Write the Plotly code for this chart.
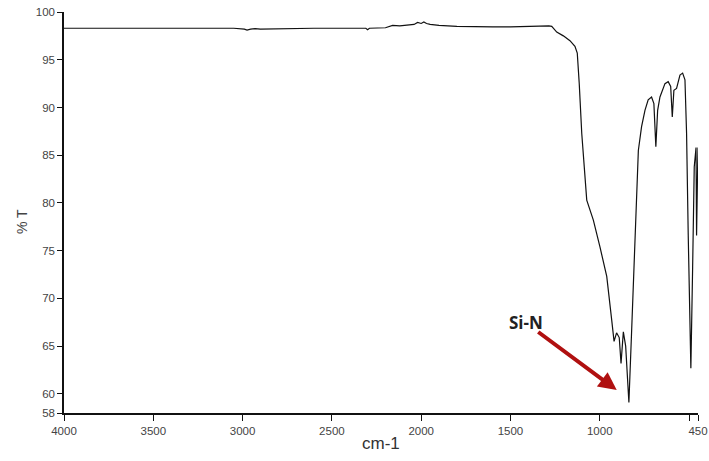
import plotly.graph_objects as go

wavenumber = [4000, 3800, 3600, 3400, 3200, 3050, 2990, 2975, 2955, 2930, 2900, 2800, 2600, 2400,
              2310, 2300, 2290, 2200, 2160, 2120, 2080, 2040, 2020, 2000, 1985, 1970, 1950, 1900,
              1800, 1700, 1600, 1500, 1400, 1330, 1300, 1285, 1269, 1241, 1204, 1167, 1139, 1126,
              1115, 1101, 1073, 1036, 999, 961, 933, 920, 906, 891, 881, 868, 855, 837, 822, 803,
              784, 766, 747, 729, 710, 697, 686, 676, 663, 635, 617, 603, 594, 585, 570, 551, 536,
              523, 514, 505, 495, 490, 480, 471, 461, 458, 452, 450]
transmittance = [98.3, 98.3, 98.25, 98.3, 98.3, 98.3, 98.2, 98.1, 98.2, 98.25, 98.2, 98.25, 98.3, 98.3,
                 98.3, 98.15, 98.3, 98.35, 98.6, 98.55, 98.6, 98.7, 98.9, 98.8, 98.95, 98.8, 98.7, 98.6,
                 98.5, 98.45, 98.45, 98.45, 98.5, 98.6, 98.6, 98.55, 98.5, 97.9, 97.5, 97.0, 96.4, 95.7,
                 92.5, 87.3, 80.3, 78.2, 75.4, 72.3, 67.7, 65.5, 66.4, 65.9, 63.2, 66.5, 65.0, 59.1, 66.4, 76.9,
                 85.5, 88.0, 89.7, 90.8, 91.1, 90.4, 85.9, 89.7, 91.1, 92.5, 92.7, 92.2, 89.0, 91.8, 92.0, 93.4, 93.6,
                 92.9, 87.3, 76.9, 66.4, 62.7, 73.3, 83.8, 85.8, 76.6, 83.8, 85.8]

x_tickvals = [4000, 3500, 3000, 2500, 2000, 1500, 1000, 500, 450]
x_ticktext = ["4000", "3500", "3000", "2500", "2000", "1500", "1000", "", "450"]
y_tickvals = [58, 60, 65, 70, 75, 80, 85, 90, 95, 100]
y_ticktext = ["58", "60", "65", "70", "75", "80", "85", "90", "95", "100"]

x_title = "cm-1"
y_title = "% T"
label_text = "Si-N"
label_pos = (1415, 67.5)
arrow_tail = (1353, 66.6)
arrow_head = (905, 60.4)

font_main = "Liberation Sans Narrow, Arial Narrow, Liberation Sans, sans-serif"

fig = go.Figure()
fig.add_trace(go.Scatter(x=wavenumber, y=transmittance, mode="lines",
                         line=dict(color="#111111", width=1.2), showlegend=False,
                         hoverinfo="skip"))

fig.add_annotation(x=arrow_head[0], y=arrow_head[1], ax=arrow_tail[0], ay=arrow_tail[1],
                   xref="x", yref="y", axref="x", ayref="y", text="", showarrow=True,
                   arrowhead=2, arrowsize=0.9, arrowwidth=4, arrowcolor="#B01010")
fig.add_annotation(x=label_pos[0], y=label_pos[1], xref="x", yref="y", text="<b>" + label_text + "</b>",
                   showarrow=False, font=dict(family="Open Sans, Liberation Sans, sans-serif", size=17, color="#222222"))
# axis titles
fig.add_annotation(x=0.5, y=0, xref="paper", yref="paper", yshift=-19, yanchor="top",
                   text=x_title, showarrow=False, font=dict(family=font_main, size=17, color="#333333"))
fig.add_annotation(x=0, y=0.476, xref="paper", yref="paper", xshift=-42, xanchor="center",
                   text=y_title, textangle=-90, showarrow=False,
                   font=dict(family=font_main, size=14, color="#444444"))

fig.update_layout(
    width=709, height=461,
    margin=dict(l=64, r=11, t=12, b=48),
    paper_bgcolor="white", plot_bgcolor="white",
    font=dict(family=font_main, color="#444444", size=12),
    xaxis=dict(range=[4000, 450], tickvals=x_tickvals, ticktext=x_ticktext, automargin=False,
               showgrid=False, zeroline=False, showline=True, linecolor="#111111", linewidth=1.5,
               ticks="outside", ticklen=6, tickcolor="#111111", tickwidth=1.2,
               ticklabeloverflow="allow", tickfont=dict(size=11.5, color="#444444")),
    yaxis=dict(range=[58, 100], tickvals=y_tickvals, ticktext=y_ticktext, automargin=False,
               showgrid=False, zeroline=False, showline=True, linecolor="#111111", linewidth=1.5,
               ticks="outside", ticklen=5, tickcolor="#111111", tickwidth=1.2,
               ticklabeloverflow="allow", tickfont=dict(size=11.5, color="#444444")),
)

# remove the default page margin so the 709x461 figure fills the window exactly
fig.write_html("out.html", config={"displayModeBar": False},
               post_script="document.body.style.margin='0';document.body.style.overflow='hidden';")
